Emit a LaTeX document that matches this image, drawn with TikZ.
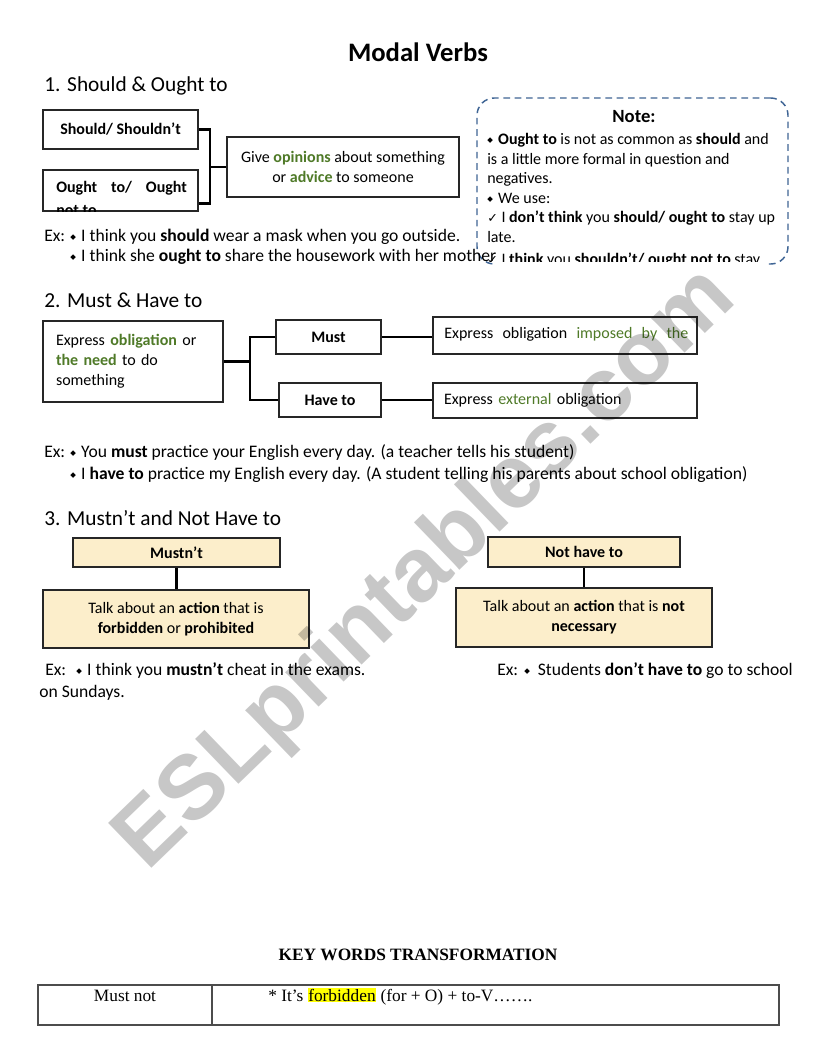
\documentclass[tikz,border=0pt]{standalone}
\usepackage{fontspec}
\setmainfont{Carlito}
\newfontfamily\timesfont{Liberation Serif}
\newfontfamily\markfont{Liberation Sans}
\newfontfamily\symfont{DejaVu Sans}
\definecolor{leaf}{HTML}{4F7A28}
\definecolor{sand}{HTML}{FCEECB}
\definecolor{notedash}{HTML}{3F6595}
\definecolor{marker}{HTML}{FFFF00}
\newcommand\dia{{\symfont\fontsize{5.5}{6}\selectfont\raisebox{.8pt}{◆}}\hspace{4pt}}
\newcommand\chk{{\symfont\fontsize{9.5}{10}\selectfont ✓}}
\newcommand\grn[1]{\textcolor{leaf}{\textbf{#1}}}
\setlength{\fboxsep}{.4pt}

\begin{document}
\begin{tikzpicture}[x=.75pt,y=-.75pt,font=\fontsize{12}{15}\selectfont,
  wh/.style 2 args={minimum width=#1*.75pt,minimum height=#2*.75pt},
  box/.style={draw=black!85,line width=1.1pt,inner sep=0pt,align=center},
  tanbox/.style={box,fill=sand},
  conn/.style={line width=2.2pt},
  txt/.style={anchor=base west,inner sep=0pt},
  extxt/.style={txt,font=\fontsize{13.2}{15}\selectfont},
  head/.style={txt,font=\fontsize{16}{19}\selectfont},
  serif/.style={font=\timesfont\fontsize{13}{15}\selectfont}]
\fill[white] (0,0) rectangle (821,1063);
\useasboundingbox (0,0) rectangle (821,1063);
% Title and section 1: two labels bracketed into one meaning box.
\node[anchor=base,font=\fontsize{20}{24}\selectfont\bfseries] (title) at (418,62) {Modal Verbs};
\node[head] (h1) at (44,91) {\makebox[17.25pt][l]{1.}Should \& Ought to};
\node[box,wh={155}{39}] (should) at (120.5,129.5) {\textbf{Should/ Shouldn’t}};
\node[box,wh={155}{41}] (ought) at (120.5,190.5) {};
\begin{scope}
  \clip (ought.south west) rectangle (ought.north east);
  \node[txt] (oughtline) at (56,192) {\makebox[98pt][s]{\bfseries Ought to/ Ought}};
  \node[txt] (oughtcut) at (56,215) {\bfseries not to};
\end{scope}
\node[box,wh={232}{60}] (opin) at (343,167) {Give \grn{opinions} about something\\or \grn{advice} to someone};
\coordinate (j1) at (210,167);
\draw[conn] (should.east) -| (j1) |- ([yshift=6pt]ought.south east);
\draw[conn] (j1) -- (opin.west);
% Dashed note at the top right; its last line runs out of the box.
\node[draw=notedash,line width=1.1pt,dash pattern=on 5pt off 3.5pt,rounded corners=13pt,inner sep=0pt,wh={311}{166}] (note) at (632.5,181) {};
\node[anchor=base,font=\fontsize{14}{16}\selectfont\bfseries] (notehead) at (634,122) {Note:};
\node[txt] (n1) at (487,144) {\dia\textbf{Ought to} is not as common as \textbf{should} and};
\node[txt] (n2) at (487,164) {is a little more formal in question and};
\node[txt] (n3) at (487,183) {negatives.};
\node[txt] (n4) at (487,203) {\dia We use:};
\node[txt] (n5) at (487,222) {\chk\ I \textbf{don’t think} you \textbf{should/ ought to} stay up};
\node[txt] (n6) at (487,242) {late.};
\fill[white] (496,255) rectangle (766,268);
\begin{scope}
  \clip (480,240) rectangle (790,261);
  \node[txt] (n7) at (487,264.5) {\chk\ I \textbf{think} you \textbf{shouldn’t/ ought not to} stay};
\end{scope}
\node[extxt] (ex1) at (44,241) {Ex:};
\node[extxt] (ex1a) at (70,241) {\dia I think you \textbf{should} wear a mask when you go outside.};
\node[extxt] (ex1b) at (70,261) {\dia I think she \textbf{ought to} share the housework with her mother};
% Section 2: one meaning box split into Must and Have to.
\node[head] (h2) at (44,307) {\makebox[17.25pt][l]{2.}Must \& Have to};
\node[box,wh={180}{81},text width=115.5pt,align=left] (oblig) at (133,361.5) {Express \grn{obligation} or\\\grn{the need} to do\\something};
\node[box,wh={105}{34}] (must) at (328.5,337) {\textbf{Must}};
\node[box,wh={102}{34}] (haveto) at (330,400) {\textbf{Have to}};
\node[box,wh={264}{37}] (imposed) at (565,335.5) {};
\node[txt] (imposedtxt) at (444,338) {\makebox[183pt][s]{Express obligation \textcolor{leaf}{imposed by the}}};
\node[box,wh={264}{35},text width=181.5pt,align=left] (external) at (565,400.5) {Express \textcolor{leaf}{external} obligation};
\coordinate (j2) at (250,361.5);
\draw[conn] (oblig.east) -- (j2);
\draw[conn] (must.west) -| (j2) |- (haveto.west);
\draw[conn] (must.east) -- (must.east -| imposed.west);
\draw[conn] (haveto.east) -- (haveto.east -| external.west);
\node[extxt] (ex2) at (44,457) {Ex:};
\node[extxt] (ex2a) at (70,457) {\dia You \textbf{must} practice your English every day. (a teacher tells his student)};
\node[extxt] (ex2b) at (70,479) {\dia I \textbf{have to} practice my English every day. (A student telling his parents about school obligation)};
% Section 3: two tan pairs side by side.
\node[head] (h3) at (44,525) {\makebox[17.25pt][l]{3.}Mustn’t and Not Have to};
\node[tanbox,wh={207}{29}] (mustnt) at (176.5,552.5) {\textbf{Mustn’t}};
\node[tanbox,wh={266}{58}] (talk1) at (176,619) {Talk about an \textbf{action} that is\\\textbf{forbidden} or \textbf{prohibited}};
\node[tanbox,wh={192}{30}] (nothave) at (584,552) {\textbf{Not have to}};
\node[tanbox,wh={256}{59}] (talk2) at (584,617.5) {Talk about an \textbf{action} that is \textbf{not}\\\textbf{necessary}};
\draw[conn] (mustnt.south) -- (mustnt.south |- talk1.north);
\draw[conn] (nothave.south) -- (nothave.south |- talk2.north);
\node[extxt] (ex3) at (45,675) {Ex:};
\node[extxt] (ex3a) at (76,675) {\dia I think you \textbf{mustn’t} cheat in the exams.};
\node[extxt] (ex3b) at (39,697) {on Sundays.};
\node[extxt] (ex4) at (497,675) {Ex:};
\node[extxt] (ex4a) at (524,675) {\dia\hspace{2pt}Students \textbf{don’t have to} go to school};
% Key words table in serif type.
\node[anchor=base,font=\timesfont\bfseries\fontsize{13}{15}\selectfont] (kwt) at (418,960) {KEY WORDS TRANSFORMATION};
\draw[black!70,line width=.8pt] (38,985) rectangle (779,1025) (212,985) -- (212,1025);
\node[anchor=base,serif] (mustnot) at (125,1001) {Must not};
\node[txt,serif] (forb) at (268,1001) {* It’s \colorbox{marker}{forbidden} (for + O) + to-V…….};
% Watermark across the page.
\node[anchor=base,rotate=44,font=\markfont\bfseries\fontsize{68}{80}\selectfont,text=black,opacity=.22] (wm) at (443,587) {ESLprintables.com};
\end{tikzpicture}
\end{document}
